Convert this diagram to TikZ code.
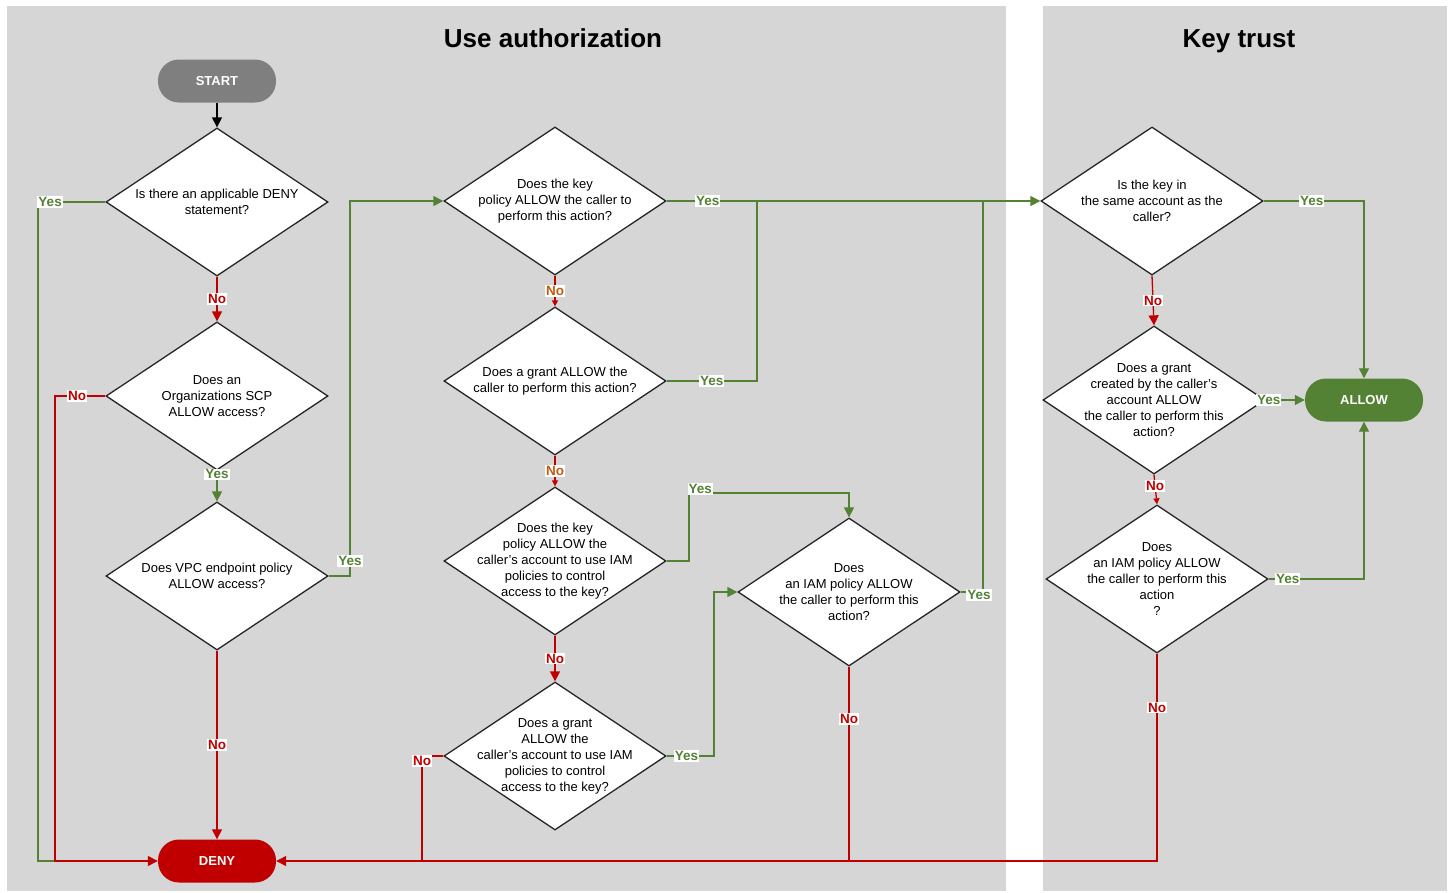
\documentclass[tikz,border=0pt]{standalone}
\usepackage{fontspec}
\setmainfont{Liberation Sans}
\usepackage{xcolor}
\usepackage{tikz}
\usetikzlibrary{shapes.geometric}
\usetikzlibrary{arrows.meta}
\usetikzlibrary{positioning}
\definecolor{Flaeche}{RGB}{214,214,214}
\definecolor{Gruen}{RGB}{84,130,53}
\definecolor{Rot}{RGB}{192,0,0}
\definecolor{Orange}{RGB}{197,90,17}
\definecolor{Grau}{RGB}{127,127,127}
\tikzset{
  Raute/.style={diamond, draw=black!85, fill=white, line width=1.3pt, inner sep=0pt,
    minimum width=222pt, minimum height=148pt}, % Entscheidung
  Frage/.style={align=center, font=\fontsize{13}{16}\selectfont}, % Fragetext
  Ende/.style={rectangle, rounded corners=21pt, minimum width=118pt, minimum height=43pt,
    text=white, font=\fontsize{13}{15}\selectfont\bfseries}, % Start/Ende
  Pfeil/.style={line width=1.3pt},
  JaPfeil/.style={Gruen, Pfeil}, % Ja-Zweig
  NeinPfeil/.style={Rot, Pfeil}, % Nein-Zweig
  Klein/.style={-{Triangle[length=6pt,width=6pt]}},
  Ja/.style={fill=white, inner sep=1pt, text=Gruen, font=\fontsize{13.5}{15}\selectfont\bfseries},
  Nein/.style={Ja, text=Rot},
  Titel/.style={anchor=base, font=\fontsize{26}{30}\selectfont\bfseries}
}
\begin{document}
\begin{tikzpicture}[x=1pt, y=-1pt,
>={Triangle[length=10pt,width=10pt]} % Voreinstellung Pfeilspitzen
]
\useasboundingbox (0,0) rectangle (1448,892);

%Hintergrund
\fill[white] (0,0) rectangle (1448,892);
\fill[Flaeche] (7,6) rectangle (1006,891);
\fill[Flaeche] (1043,6) rectangle (1447,891);

%Titel
\node[Titel] (titel1) at (553,47) {Use authorization};
\node[Titel] (titel2) at (1239,47) {Key trust};

%Start und Ende
\node[Ende, fill=Grau] (start) at (217,81) {START};
\node[Ende, fill=Rot] (deny) at (217,861) {DENY};
\node[Ende, fill=Gruen] (allow) at (1364,400) {ALLOW};

%Fragen
\node[Raute, label={[Frage]center:Is there an applicable DENY\\statement?}] (d1) at (217,202) {};
\node[Raute, label={[Frage]center:Does an\\Organizations SCP\\ALLOW access?}] (d2) at (217,396) {};
\node[Raute, label={[Frage]center:Does VPC endpoint policy\\ALLOW access?}] (d3) at (217,576) {};
\node[Raute, label={[Frage]center:Does the key\\policy ALLOW the caller to\\perform this action?}] (d4) at (555,201) {};
\node[Raute, label={[Frage]center:Does a grant ALLOW the\\caller to perform this action?}] (d5) at (555,381) {};
\node[Raute, label={[Frage]center:Does the key\\policy ALLOW the\\caller's account to use IAM\\policies to control\\access to the key?}] (d6) at (555,561) {};
\node[Raute, label={[Frage]center:Does a grant\\ALLOW the\\caller's account to use IAM\\policies to control\\access to the key?}] (d7) at (555,756) {};
\node[Raute, label={[Frage]center:Does\\an IAM policy ALLOW\\the caller to perform this\\action?}] (d8) at (849,592) {};
\node[Raute, label={[Frage]center:Is the key in\\the same account as the\\caller?}] (d9) at (1152,201) {};
\node[Raute, label={[Frage]center:Does a grant\\created by the caller's\\account ALLOW\\the caller to perform this\\action?}] (d10) at (1154,400) {};
\node[Raute, label={[Frage]center:Does\\an IAM policy ALLOW\\the caller to perform this\\action\\?}] (d11) at (1157,579) {};

%Knickpunkte
\coordinate (ay) at (38,861);
\coordinate (jl) at (55,861);
\coordinate (k1) at (350,201);
\coordinate (k2) at (757,201);
\coordinate (k3) at (689,493);
\coordinate (k4) at (983,201);
\coordinate (k5) at (422,861);
\coordinate (k6) at (714,592);

%Verbindungen
\draw[Pfeil, ->] (start.south) -- (d1.north);
\draw[JaPfeil] (d1.west) -| node[Ja, pos=.41]{Yes} (ay) -- (jl);
\draw[NeinPfeil, ->] (d1.south) -- node[Nein]{No} (d2.north);
\draw[NeinPfeil, ->] (d2.west) -| node[Nein, pos=.28]{No} (jl) -- (deny.west);
\draw[JaPfeil, ->] (d2.south) -- node[Ja, pos=.12]{Yes} (d3.north);
\draw[NeinPfeil, ->] (d3.south) -- node[Nein]{No} (deny.north);
\draw[JaPfeil, ->] (d3.east) -| node[Ja, pos=.52]{Yes} (k1) -- (d4.west);

\draw[JaPfeil, ->] (d4.east) -- node[Ja, pos=.11]{Yes} (d9.west);
\draw[NeinPfeil, Klein] (d4.south) -- node[Nein, text=Orange]{No} (d5.north);
\draw[JaPfeil] (d5.east) -| node[Ja, pos=.25]{Yes} (k2);
\draw[NeinPfeil, Klein] (d5.south) -- node[Nein, text=Orange]{No} (d6.north);
\draw[JaPfeil, ->] (d6.east) -| (k3) -| node[Ja, pos=.035, yshift=4pt]{Yes} (d8.north);
\draw[NeinPfeil, ->] (d6.south) -- node[Nein]{No} (d7.north);
\draw[JaPfeil, ->] (d7.east) -| node[Ja, pos=.21]{Yes} (k6) -- (d8.west);
\draw[NeinPfeil] (d7.west) -| node[Nein, pos=.5, yshift=-5pt]{No} (k5);
\draw[JaPfeil] (d8.east) -| node[Ja, pos=.5, xshift=-4pt, yshift=-3pt]{Yes} (k4);
\draw[NeinPfeil] (d8.south) -- node[Nein, pos=.27]{No} (d8.south |- deny.east);

\draw[JaPfeil, ->] (d9.east) -| node[Ja, pos=.24]{Yes} (allow.north);
\draw[NeinPfeil, ->] (d9.south) -- node[Nein]{No} (d10.north);
\draw[JaPfeil, ->] (d10.east) -- node[Ja, pos=.08]{Yes} (allow.west);
\draw[NeinPfeil, Klein] (d10.south) -- node[Nein, pos=.38]{No} (d11.north);
\draw[JaPfeil, ->] (d11.east) -| node[Ja, pos=.1]{Yes} (allow.south);
\draw[NeinPfeil, ->] (d11.south) |- node[Nein, pos=.13]{No} (deny.east);

\end{tikzpicture}
\end{document}
